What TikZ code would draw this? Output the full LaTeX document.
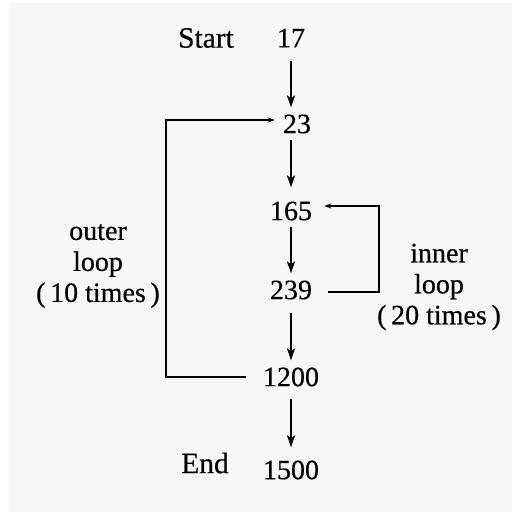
\documentclass[tikz,border=0pt]{standalone}
\usepackage{fontspec}
\setmainfont[FakeBold=0.5]{Liberation Serif}
\usetikzlibrary{arrows.meta}
\begin{document}
\begin{tikzpicture}[x=1pt,y=-1pt,
  val/.style={inner sep=0pt,font=\fontsize{28}{31}\selectfont},
  lbl/.style={inner sep=0pt,align=center,font=\fontsize{28}{31}\selectfont},
  flow/.style={line width=2pt,-{Stealth[length=12pt,width=8pt,inset=3pt]}},
  back/.style={line width=2pt,-{Stealth[length=7pt,width=5pt,inset=2pt]}}]
  % page and panel background
  \fill[white] (0,0) rectangle (512,512);
  \fill[black!3] (9,3) rectangle (512,512);
  \useasboundingbox (0,0) rectangle (512,512);

  % values along the chain
  \node[val] (n17)   at (291,38)  {17};
  \node[val] (n23)   at (297,124) {23};
  \node[val] (n165)  at (291,211) {165};
  \node[val] (n239)  at (291,290) {239};
  \node[val] (n1200) at (291,377) {1200};
  \node[val] (n1500) at (291,470) {1500};

  \node[val,font=\fontsize{29.5}{31}\selectfont] (start) at (206,38)  {Start};
  \node[val,font=\fontsize{29.5}{31}\selectfont] (end)   at (205,463) {End};

  \node[lbl] (outer) at (98,266)  {outer\\loop\\(\,10 times\,)};
  \node[lbl] (inner) at (439,287) {inner\\loop\\(\,20 times\,)};

  % forward steps
  \draw[flow,shorten <=14pt,shorten >=7pt]  (n17)   -- (n17 |- n23.north);
  \draw[flow,shorten <=6pt,shorten >=14pt]  (n23.south -| n165) -- (n165);
  \draw[flow,shorten <=6pt,shorten >=7pt]   (n165)  -- (n239);
  \draw[flow,shorten <=13pt,shorten >=7pt]  (n239)  -- (n1200);
  \draw[flow,shorten <=12pt,shorten >=13pt] (n1200) -- (n1500);

  % loop-back paths
  \draw[back] ([xshift=-17pt]n1200.west) -- ++(-80,0)
     |- ([xshift=-8pt,yshift=4pt]n23.west);
  \draw[back] ([xshift=16pt,yshift=-2pt]n239.east) -- ++(51,0)
     |- ([xshift=12pt,yshift=5pt]n165.east);
\end{tikzpicture}
\end{document}
